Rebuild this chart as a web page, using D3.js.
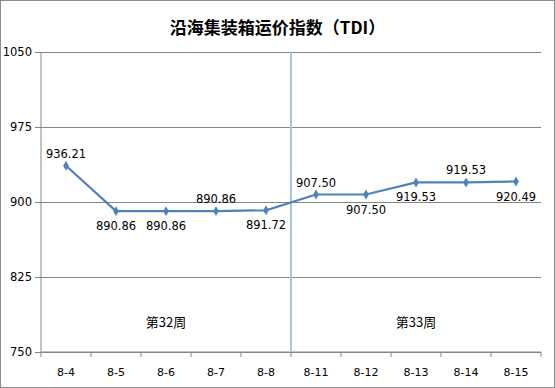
<!DOCTYPE html>
<html>
<head>
<meta charset="utf-8">
<script src="https://cdn.jsdelivr.net/npm/d3@7"></script>
<style>
  body { margin: 0; background: #fff; }
  svg text { font-family: "DejaVu Sans", Verdana, sans-serif; }
</style>
</head>
<body>
<div id="chart"></div>
<script>
var dates = ["8-4", "8-5", "8-6", "8-7", "8-8", "8-11", "8-12", "8-13", "8-14", "8-15"];
var values = [936.21, 890.86, 890.86, 890.86, 891.72, 907.50, 907.50, 919.53, 919.53, 920.49];
// label above (-1) or below (1) the point
var labelPos = [-1, 1, 1, -1, 1, -1, 1, 1, -1, 1];
var yTicks = [750, 825, 900, 975, 1050];
var weeks = ["第32周", "第33周"];

var W = 555, H = 388;
var margin = {top: 52, right: 14, bottom: 36, left: 41},
    width = W - margin.left - margin.right,
    height = H - margin.top - margin.bottom;

var svg = d3.select("#chart").append("svg")
  .attr("width", W).attr("height", H);

// outer border
svg.append("rect").attr("x", 0.5).attr("y", 0.5)
  .attr("width", W - 1).attr("height", H - 1)
  .attr("fill", "#fff").attr("stroke", "#8c8c8c");

svg.append("text").attr("x", W / 2).attr("y", 34)
  .attr("text-anchor", "middle")
  .attr("font-size", "17px").attr("font-weight", "bold")
  .style("font-family", "'Noto Sans CJK SC', sans-serif")
  .text("沿海集装箱运价指数（TDI）");

var g = svg.append("g").attr("transform", "translate(" + margin.left + "," + margin.top + ")");

var x = d3.scaleBand().domain(dates).range([0, width]);
var y = d3.scaleLinear().domain([750, 1050]).range([height, 0]);

// grid + y axis
var yAxis = d3.axisLeft(y).tickValues(yTicks).tickFormat(d3.format("d")).tickSize(-width).tickPadding(9);
var yg = g.append("g").call(yAxis);
yg.select(".domain").remove();
yg.selectAll(".tick line").attr("stroke", "#868686");
yg.selectAll(".tick").append("line").attr("x1", -6).attr("x2", 0).attr("stroke", "#868686");
yg.selectAll("text").attr("font-size", "11.5px").attr("fill", "#000");
yg.append("line").attr("x1", 0).attr("x2", 0).attr("y1", 0).attr("y2", height).attr("stroke", "#868686");

// x axis, ticks at band boundaries
var xg = g.append("g").attr("transform", "translate(0," + height + ")");
xg.append("line").attr("x1", 0).attr("x2", width).attr("stroke", "#868686");
var bounds = dates.map(function(d) { return x(d); }).concat([width]);
xg.selectAll(".bt").data(bounds).enter().append("line")
  .attr("x1", function(d) { return d; }).attr("x2", function(d) { return d; })
  .attr("y1", 0).attr("y2", 5).attr("stroke", "#868686");
xg.selectAll(".xl").data(dates).enter().append("text")
  .attr("x", function(d) { return x(d) + x.bandwidth() / 2; })
  .attr("y", 24).attr("text-anchor", "middle")
  .attr("font-size", "11px").text(function(d) { return d; });

// week divider
var divX = x("8-11");
g.append("line").attr("x1", divX).attr("x2", divX).attr("y1", 0).attr("y2", height)
  .attr("stroke", "#a9c6e3").attr("stroke-width", 2);

// week labels
var weekX = [(x("8-4") + x("8-8") + x.bandwidth()) / 2, (x("8-11") + width) / 2];
g.selectAll(".wk").data(weeks).enter().append("text")
  .attr("x", function(d, i) { return weekX[i]; })
  .attr("y", 275).attr("text-anchor", "middle")
  .attr("font-size", "13px")
  .style("font-family", "'Noto Sans CJK SC', sans-serif")
  .text(function(d) { return d; });

// line
var pts = dates.map(function(d, i) { return [x(d) + x.bandwidth() / 2, y(values[i])]; });
g.append("path").attr("d", d3.line()(pts))
  .attr("fill", "none").attr("stroke", "#4f81bd").attr("stroke-width", 2.2);

g.selectAll(".mk").data(pts).enter().append("path")
  .attr("d", d3.symbol().type(d3.symbolDiamond).size(28))
  .attr("transform", function(d) { return "translate(" + d[0] + "," + d[1] + ")"; })
  .attr("fill", "#4f81bd");

g.selectAll(".lbl").data(values).enter().append("text")
  .attr("x", function(d, i) { return pts[i][0]; })
  .attr("y", function(d, i) { return pts[i][1] + (labelPos[i] < 0 ? -8 : 19); })
  .attr("text-anchor", "middle").attr("font-size", "11.5px")
  .text(function(d) { return d.toFixed(2); });
</script>
</body>
</html>
